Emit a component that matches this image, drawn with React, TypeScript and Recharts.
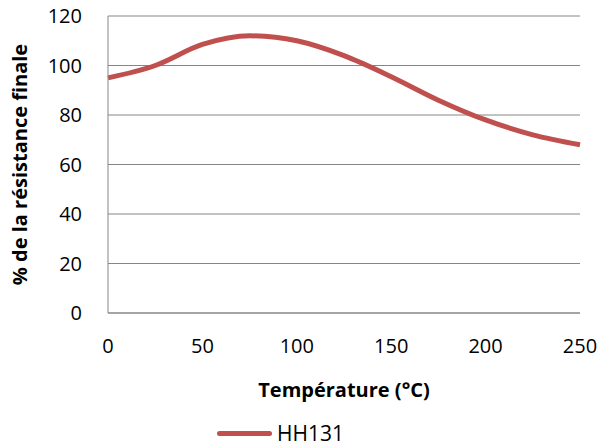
import React from "react";
import {
  CartesianGrid,
  Label,
  Legend,
  Line,
  LineChart,
  XAxis,
  YAxis,
} from "recharts";

const temperatures = [0, 25, 50, 75, 100, 125, 150, 175, 200, 225, 250];
const resistance = [95, 100, 108.5, 112, 110, 104, 95.5, 86, 78, 72, 68];
const xTicks = [0, 50, 100, 150, 200, 250];
const yTicks = [0, 20, 40, 60, 80, 100, 120];
const seriesName = "HH131";

const data = temperatures.map((t, i) => ({ t, v: resistance[i] }));

const FONT = "'Open Sans', sans-serif";
const RED = "#C0504D";
const GRAY = "#868686";

const LegendContent = () => (
  <div
    style={{
      display: "flex",
      alignItems: "center",
      height: 30,
      paddingLeft: 217,
      fontFamily: FONT,
      fontSize: 21,
      color: "#000",
    }}
  >
    <span
      style={{
        display: "inline-block",
        width: 55,
        height: 5,
        borderRadius: 3,
        background: RED,
        marginRight: 5,
      }}
    />
    <span>{seriesName}</span>
  </div>
);

export default function App() {
  return (
    <div style={{ position: "absolute", left: 0, top: 0, background: "#fff" }}>
      <LineChart
        width={603}
        height={448}
        data={data}
        margin={{ top: 16, right: 23, left: 0, bottom: 0 }}
      >
        <CartesianGrid vertical={false} stroke={GRAY} />
        <XAxis
          dataKey="t"
          type="number"
          domain={[0, 250]}
          ticks={xTicks}
          height={105}
          tickLine={false}
          tickSize={0}
          tickMargin={26}
          axisLine={{ stroke: GRAY }}
          tick={{ fill: "#000", fontSize: 20, fontFamily: FONT }}
        >
          <Label
            value="Température (°C)"
            position="insideBottom"
            offset={21}
            style={{ fontFamily: FONT, fontSize: 20, fontWeight: 700, fill: "#000" }}
          />
        </XAxis>
        <YAxis
          type="number"
          domain={[0, 120]}
          ticks={yTicks}
          width={108}
          tickLine={false}
          tickSize={0}
          tickMargin={26}
          axisLine={{ stroke: GRAY }}
          tick={{ fill: "#000", fontSize: 20, fontFamily: FONT }}
        >
          <Label
            content={({ viewBox }: any) => {
              const cx = viewBox.x + 19;
              const cy = viewBox.y + viewBox.height / 2;
              return (
                <text
                  x={cx}
                  y={cy}
                  transform={`rotate(-90 ${cx} ${cy})`}
                  textAnchor="middle"
                  dominantBaseline="central"
                  style={{ fontFamily: FONT, fontSize: 20, fontWeight: 700, fill: "#000" }}
                >
                  % de la résistance finale
                </text>
              );
            }}
          />
        </YAxis>
        <Legend
          verticalAlign="bottom"
          content={<LegendContent />}
          wrapperStyle={{ bottom: 0, left: 0, width: 603 }}
        />
        <Line
          type="monotone"
          dataKey="v"
          name={seriesName}
          stroke={RED}
          strokeWidth={5}
          dot={false}
          isAnimationActive={false}
        />
      </LineChart>
    </div>
  );
}
